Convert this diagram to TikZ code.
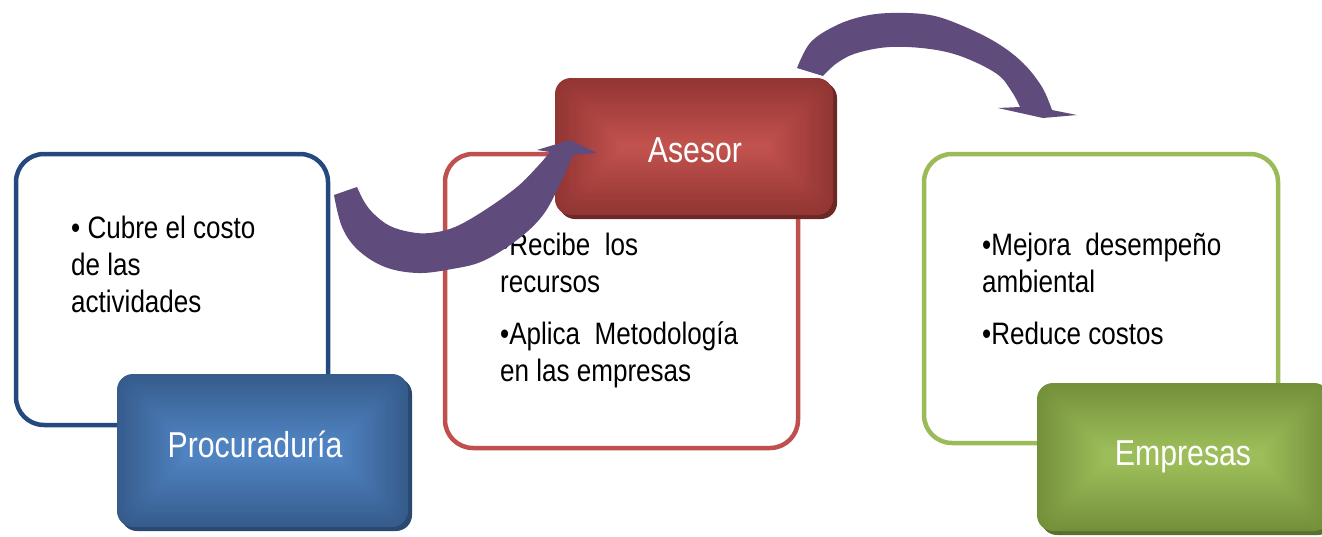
\documentclass[tikz,border=0pt]{standalone}
\usepackage{fontspec}
\setmainfont{Liberation Sans}
\definecolor{bl}{HTML}{25497E}
\definecolor{blin}{HTML}{4F82C0}
\definecolor{blout}{HTML}{365C8C}
\definecolor{blsh}{HTML}{2A4870}
\definecolor{rd}{HTML}{C0504D}
\definecolor{rdin}{HTML}{C2524E}
\definecolor{rdout}{HTML}{923533}
\definecolor{rdsh}{HTML}{6C2826}
\definecolor{gr}{HTML}{9BBB59}
\definecolor{grin}{HTML}{9DBD5A}
\definecolor{grout}{HTML}{74903A}
\definecolor{grsh}{HTML}{5A702E}
\definecolor{pu}{HTML}{5F4B7C}
\tikzset{
  outbox/.style={draw, line width=4.5pt, rounded corners=28pt, inner sep=0pt, fill=white},
  labbox/.style={rounded corners=16pt, inner sep=0pt},
  labtxt/.style={text=white, font=\fontsize{36}{40}\selectfont, inner sep=0pt},
  bodytxt/.style={anchor=base west, inner sep=0pt, text=black,
    font=\fontsize{31}{37}\selectfont},
  arrowband/.style={fill=pu}
}
\newcommand{\nrw}[1]{\scalebox{0.84}[1]{#1}}
\newcommand{\rectgrad}[3]{% node, inner, outer
  \foreach \i in {1,...,30} {
    \pgfmathsetmacro\dd{\i*2.2}
    \pgfmathtruncatemacro\pp{\i/30*100}
    \pgfmathsetmacro\rr{max(16-\dd*0.25,3)}
    \fill[#2!\pp!#3, rounded corners=\rr pt] ([shift={(\dd pt,\dd pt)}]#1.south west) rectangle ([shift={(-\dd pt,-\dd pt)}]#1.north east);
  }}
\begin{document}
\begin{tikzpicture}[x=1pt,y=1pt]
\useasboundingbox (0,0) rectangle (1322,-536);
\clip (0,0) rectangle (1322,-536);
% outline boxes
\node[outbox, draw=bl, minimum width=312pt, minimum height=271pt] (pbox) at (172,-289.5) {};
\node[outbox, draw=rd, minimum width=353pt, minimum height=294pt] (abox) at (621.5,-301) {};
\node[outbox, draw=gr, minimum width=354pt, minimum height=289pt] (ebox) at (1101,-298.5) {};
% label boxes with shadow
\fill[blsh, rounded corners=16pt] (121,-378) rectangle (412,-531);
\node[labbox, fill=blout, minimum width=291pt, minimum height=153pt] (proc) at (262.5,-450.5) {};
\rectgrad{proc}{blin}{blout}
\node[labtxt] (proct) at (255,-444) {\nrw{Procuraduría}};
\fill[rdsh, rounded corners=16pt] (559,-82) rectangle (837,-219);
\node[labbox, fill=rdout, minimum width=278pt, minimum height=137pt] (ases) at (694,-146.5) {};
\rectgrad{ases}{rdin}{rdout}
\node[labtxt] (asest) at (695,-150) {\nrw{Asesor}};
\fill[grsh, rounded corners=16pt] (1041,-387) rectangle (1334,-535);
\node[labbox, fill=grout, minimum width=293pt, minimum height=148pt] (empr) at (1183.5,-457) {};
\rectgrad{empr}{grin}{grout}
\node[labtxt] (emprt) at (1183,-457) {\nrw{Empresas}};
% body text
\node[bodytxt] (p1) at (71,-238) {\nrw{• Cubre el costo}};
\node[bodytxt] (p2) at (71,-275) {\nrw{de las}};
\node[bodytxt] (p3) at (71,-312) {\nrw{actividades}};
\node[bodytxt] (a1) at (500,-255) {\nrw{•Recibe\ \ los}};
\node[bodytxt] (a2) at (500,-292) {\nrw{recursos}};
\node[bodytxt] (a3) at (500,-344) {\nrw{•Aplica\ \ Metodología}};
\node[bodytxt] (a4) at (500,-381) {\nrw{en las empresas}};
\node[bodytxt] (e1) at (982,-255) {\nrw{•Mejora\ \ desempeño}};
\node[bodytxt] (e2) at (982,-292) {\nrw{ambiental}};
\node[bodytxt] (e3) at (982,-344) {\nrw{•Reduce costos}};
% curved arrow 1
\fill[arrowband] plot[smooth, tension=0.6] coordinates {(334,-195) (342,-227) (358,-250) (385,-267) (418,-273) (452,-269) (483,-261) (517,-240) (543,-215) (561,-182) (573,-155)}
  -- (597,-153) -- (570,-140) -- (537,-150)
  -- plot[smooth, tension=0.6] coordinates {(550,-152) (538,-166) (517,-187) (485,-210) (455,-227) (430,-233) (410,-232) (390,-226) (375,-215) (365,-203) (357,-187)} -- cycle;
% curved arrow 2
\fill[arrowband] plot[smooth, tension=0.6] coordinates {(797,-68) (810,-43) (833,-27) (860,-17) (890,-13) (930,-15) (963,-26) (997,-43) (1023,-63) (1042,-87) (1052,-110)}
  -- (1077,-115) -- (1043,-118) -- (998,-108)
  -- plot[smooth, tension=0.6] coordinates {(1020,-107) (1012,-92) (997,-74) (963,-57) (930,-49) (890,-47) (857,-53) (837,-63) (823,-76)} -- cycle;
\end{tikzpicture}
\end{document}
